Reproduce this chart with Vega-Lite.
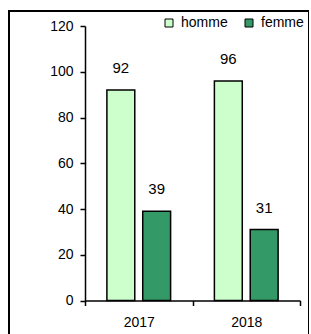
{
  "$schema": "https://vega.github.io/schema/vega-lite/v6.json",
  "width": 300,
  "height": 330,
  "autosize": {"type": "none"},
  "padding": {"left": 9, "top": 11, "right": 0, "bottom": 0},
  "background": "white",
  "config": {
    "view": {"stroke": "black", "strokeWidth": 2},
    "font": "Liberation Sans"
  },
  "data": {
    "values": [
      {"year": "2017", "sex": "homme", "value": 92},
      {"year": "2017", "sex": "femme", "value": 39},
      {"year": "2018", "sex": "homme", "value": 96},
      {"year": "2018", "sex": "femme", "value": 31}
    ]
  },
  "encoding": {
    "x": {
      "field": "year",
      "type": "nominal",
      "scale": {"range": [76, 291], "paddingInner": 0, "paddingOuter": 0},
      "axis": {
        "title": null,
        "labelAngle": 0,
        "offset": -40.5,
        "tickBand": "extent",
        "tickSize": 5,
        "tickColor": "black",
        "tickWidth": 1.5,
        "domainColor": "black",
        "domainWidth": 1.5,
        "labelColor": "black",
        "labelFontSize": 14,
        "labelPadding": 10
      }
    },
    "xOffset": {
      "field": "sex",
      "sort": ["homme", "femme"],
      "scale": {"paddingInner": 0.222, "paddingOuter": 0.611}
    },
    "y": {
      "field": "value",
      "type": "quantitative",
      "scale": {"domain": [0, 120], "range": [289.5, 15], "nice": false},
      "axis": {
        "title": null,
        "grid": false,
        "offset": -76,
        "values": [0, 20, 40, 60, 80, 100, 120],
        "tickSize": 5,
        "tickColor": "black",
        "tickWidth": 1.5,
        "domainColor": "black",
        "domainWidth": 1.5,
        "labelColor": "black",
        "labelFontSize": 14,
        "labelPadding": 7
      }
    }
  },
  "layer": [
    {
      "mark": {"type": "bar", "stroke": "black", "strokeWidth": 1.5},
      "encoding": {
        "color": {
          "field": "sex",
          "type": "nominal",
          "scale": {"domain": ["homme", "femme"], "range": ["#ccffcc", "#339966"]},
          "legend": {
            "title": null,
            "orient": "none",
            "legendX": 153,
            "legendY": 5,
            "direction": "horizontal",
            "symbolType": "square",
            "symbolSize": 64,
            "symbolStrokeColor": "black",
            "symbolStrokeWidth": 1,
            "labelFontSize": 14,
            "labelColor": "black",
            "labelOffset": 5,
            "columnPadding": 14,
            "padding": 0
          }
        }
      }
    },
    {
      "mark": {"type": "text", "baseline": "alphabetic", "dy": -17, "fontSize": 15, "color": "black"},
      "encoding": {"text": {"field": "value", "type": "quantitative"}}
    }
  ]
}
